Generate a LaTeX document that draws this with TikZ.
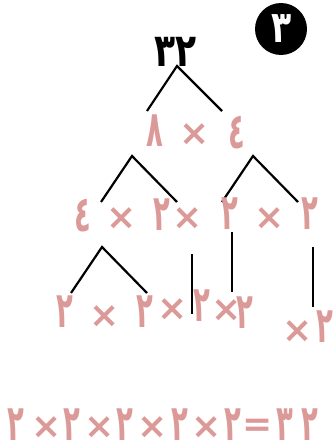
\documentclass[tikz,border=0pt]{standalone}
\usepackage{fontspec}
\newfontfamily\ar[Script=Arabic]{DejaVu Sans}
\newfontfamily\arn[Script=Arabic,FakeStretch=0.55]{DejaVu Sans}
\newfontfamily\arb[Script=Arabic,FakeStretch=0.75]{DejaVu Sans}
\definecolor{pinkd}{RGB}{219,154,152}
\tikzset{
  dig/.style={inner sep=0pt, text=pinkd, font=\arn\bfseries\fontsize{50}{54}\selectfont},
  tms/.style={inner sep=0pt, text=pinkd, font=\ar\bfseries\fontsize{36}{40}\selectfont},
  big/.style={inner sep=0pt, text=black, font=\arb\bfseries\fontsize{46}{50}\selectfont},
  br/.style={line width=2.2pt, black}
}
\begin{document}
\begin{tikzpicture}[x=1pt,y=-1pt]
\useasboundingbox (0,0) rectangle (334,447);
% badge
\node[circle, fill=black, minimum size=52pt, inner sep=0pt] (badge) at (281,29) {};
\node[inner sep=0pt, text=white, font=\arb\bfseries\fontsize{44}{46}\selectfont] (badgetxt) at (282,29) {٣};
% top
\node[big] (top) at (176,52) {٣٢};
\coordinate (a0) at (177,66);
\coordinate (a0l) at (147,111);
\coordinate (a0r) at (222,111);
\draw[br] (a0l) -- (a0) -- (a0r);
% row 2
\node[dig] (r2a) at (155,131) {٨};
\node[tms] (r2x) at (195,135) {×};
\node[dig] (r2b) at (237,133) {٤};
\coordinate (a1) at (132,156);
\coordinate (a1l) at (101,202);
\coordinate (a1r) at (177,202);
\coordinate (a2) at (253,156);
\coordinate (a2l) at (222,202);
\coordinate (a2r) at (298,202);
\draw[br] (a1l) -- (a1) -- (a1r);
\draw[br] (a2l) -- (a2) -- (a2r);
% row 3
\node[dig] (r3a) at (83,216) {٤};
\node[tms] (r3x1) at (122,219) {×};
\node[dig] (r3b) at (162,215) {٢};
\node[tms] (r3x2) at (188,219) {×};
\node[dig] (r3c) at (230,214) {٢};
\node[tms] (r3x3) at (270,219) {×};
\node[dig] (r3d) at (310,214) {٢};
\coordinate (a3) at (102,247);
\coordinate (a3l) at (71,293);
\coordinate (a3r) at (147,293);
\draw[br] (a3l) -- (a3) -- (a3r);
\coordinate (v1t) at (192,254);
\coordinate (v1b) at (192,314);
\coordinate (v2t) at (232,232);
\coordinate (v2b) at (232,292);
\coordinate (v3t) at (313,247);
\coordinate (v3b) at (313,307);
\draw[br] (v1t) -- (v1b);
\draw[br] (v2t) -- (v2b);
\draw[br] (v3t) -- (v3b);
% row 4
\node[dig] (r4a) at (65,312) {٢};
\node[tms] (r4x1) at (105,317) {×};
\node[dig] (r4b) at (145,312) {٢};
\node[tms] (r4x2) at (173,310) {×};
\node[dig] (r4c) at (202,306) {٢};
\node[tms] (r4x3) at (227,311) {×};
\node[dig] (r4d) at (245,313) {٢};
\node[tms] (r4x4) at (298,332) {×};
\node[dig] (r4e) at (325,327) {٢};
% bottom equation
\node[dig] (e1) at (16,425) {٢};
\node[tms] (ex1) at (47,428) {×};
\node[dig] (e2) at (72,425) {٢};
\node[tms] (ex2) at (100,428) {×};
\node[dig] (e3) at (125,425) {٢};
\node[tms] (ex3) at (153,428) {×};
\node[dig] (e4) at (180,425) {٢};
\node[tms] (ex4) at (207,428) {×};
\node[dig] (e5) at (233,425) {٢};
\node[tms] (eq) at (258,428) {=};
\node[dig] (e6) at (285,425) {٣};
\node[dig] (e7) at (310,425) {٢};
\end{tikzpicture}
\end{document}
